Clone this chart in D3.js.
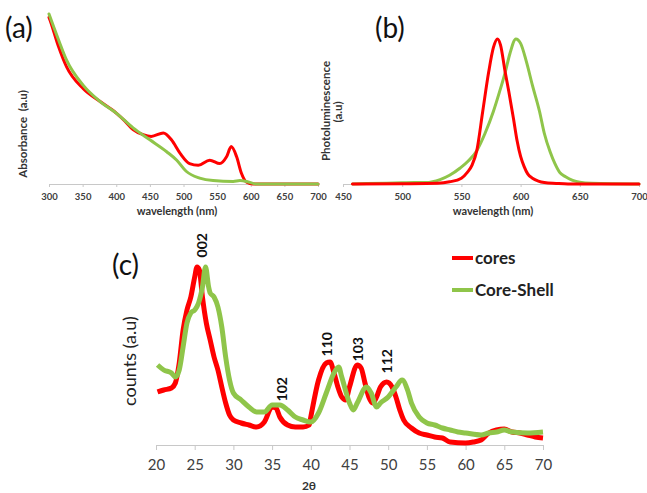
<!DOCTYPE html>
<html>
<head>
  <meta charset="utf-8">
  <title>Absorbance, PL and XRD</title>
  <script src="https://d3js.org/d3.v7.min.js"></script>
  <style>
    body { margin: 0; padding: 0; background: #fff; }
    svg { display: block; font-family: Lato, "Open Sans", sans-serif; }
  </style>
</head>
<body>
  <svg id="fig" width="647" height="493"></svg>
  <script>
    // (a) absorbance, normalised
    var absNm = [300, 301, 314, 326, 351, 376, 400, 413, 425, 440, 452, 470, 482, 495, 509, 522, 539, 554, 564, 571, 579, 586, 594, 603, 650, 700];
    var absCores = [0.98, 0.97, 0.81, 0.69, 0.56, 0.485, 0.417, 0.37, 0.32, 0.29, 0.28, 0.30, 0.26, 0.18, 0.12, 0.11, 0.14, 0.12, 0.16, 0.22, 0.16, 0.065, 0.01, 0, 0, 0];
    var absShellNm = [300, 314, 326, 351, 376, 400, 425, 450, 475, 490, 504, 524, 544, 574, 584, 594, 608, 650, 700];
    var absShell = [1.0, 0.85, 0.73, 0.58, 0.485, 0.417, 0.33, 0.26, 0.19, 0.14, 0.075, 0.035, 0.02, 0.015, 0.02, 0.015, 0, 0, 0];

    // (b) photoluminescence, normalised
    var plCoresNm = [458, 500, 530, 540, 550, 555, 559, 563, 568, 573, 577, 580.5, 583, 587, 590, 594, 597, 600, 603, 606, 610, 615, 620, 630, 640, 700];
    var plCores = [0, 0.002, 0.005, 0.015, 0.04, 0.08, 0.13, 0.23, 0.5, 0.77, 0.94, 1.0, 0.96, 0.77, 0.64, 0.45, 0.3, 0.19, 0.12, 0.07, 0.04, 0.02, 0.01, 0.004, 0, 0];
    var plShellNm = [458, 470, 500, 510, 520, 532, 540, 549, 556, 563, 570, 577, 582, 587, 591, 596, 600, 605, 610, 616, 620, 625, 629, 633, 638, 644, 650, 660, 700];
    var plShell = [0, 0.003, 0.008, 0.01, 0.01, 0.03, 0.06, 0.11, 0.16, 0.23, 0.35, 0.5, 0.63, 0.77, 0.9, 1.0, 0.97, 0.84, 0.68, 0.5, 0.35, 0.22, 0.14, 0.08, 0.05, 0.025, 0.012, 0.005, 0];

    // (c) XRD counts, arbitrary units
    var xrdCoresT = [20.2, 21, 22, 22.5, 23, 23.5, 24, 24.5, 25, 25.3, 25.6, 26, 26.5, 27, 27.5, 28, 28.5, 29, 29.5, 30, 31, 32, 33, 34, 35, 35.5, 36, 37, 38, 39, 39.8, 40, 41, 42, 42.5, 43, 43.5, 44, 44.5, 45, 46, 46.5, 47, 47.5, 48, 48.5, 49, 49.8, 50.5, 51, 51.5, 52, 53, 54, 55, 56, 57, 58, 60, 61, 62, 63, 64, 65, 66, 67, 68, 69, 70];
    var xrdCores = [53, 55, 57, 62, 82, 115, 135, 148, 168, 178, 175, 148, 122, 105, 88, 75, 58, 42, 30, 25, 22, 20, 18, 23, 38, 37, 28, 20, 18, 18, 20, 28, 65, 82, 83, 72, 58, 48, 45, 58, 80, 77, 62, 48, 42, 48, 58, 63, 58, 48, 35, 25, 17, 12, 10, 8, 7, 3, 2, 3, 5, 12, 15, 16, 13, 12, 10, 8, 7];
    var xrdShellT = [20.2, 21, 22, 22.5, 23, 23.5, 24, 24.5, 25, 25.5, 26, 26.4, 26.8, 27, 27.5, 28, 28.5, 29, 29.5, 30, 31, 32, 33, 34, 35, 36, 37, 38, 39, 40, 41, 42, 43, 43.6, 44, 45, 45.5, 46, 47.2, 47.8, 48.5, 49, 50, 51, 51.8, 52.5, 53, 54, 55, 56, 57, 58, 59, 60, 62, 63, 64, 65, 66, 68, 70];
    var xrdShell = [80, 75, 72, 68, 75, 98, 122, 132, 135, 142, 158, 178, 158, 152, 148, 138, 118, 88, 65, 52, 45, 38, 33, 33, 40, 40, 35, 28, 25, 23, 32, 52, 72, 78, 68, 42, 35, 42, 58, 52, 38, 42, 48, 58, 65, 55, 42, 28, 22, 20, 17, 15, 13, 12, 10, 12, 13, 15, 13, 12, 13];

    var peakLabels = ["002", "102", "110", "103", "112"];
    var peakPos = [25.9, 36.3, 42.05, 46.06, 49.8];
    var peakTop = [233, 377, 332, 337, 349];

    var seriesNames = ["cores", "Core-Shell"];
    var red = "#ff0000", green = "#8fc54a";

    var svg = d3.select("#fig");

    function zip(xs, ys) { return xs.map(function (x, i) { return [x, ys[i]]; }); }

    // small spectra panels
    function spectrum(opt) {
      var x = d3.scaleLinear().domain(opt.xDomain).range(opt.xRange);
      var y = d3.scaleLinear().domain([0, 1]).range([184, opt.yTop]);
      var g = svg.append("g");

      var ax = g.append("g")
        .attr("transform", "translate(0,184)")
        .call(d3.axisBottom(x).tickValues(d3.range(opt.xDomain[0], opt.xDomain[1] + 1, 50))
          .tickSize(3).tickPadding(6).tickFormat(d3.format("d")));
      ax.select(".domain").attr("stroke", "#c8c8c8");
      ax.selectAll(".tick line").attr("stroke", "#c8c8c8");
      ax.selectAll(".tick text").attr("fill", "#404040").attr("font-size", 9.5)
        .attr("font-weight", "bold").attr("font-family", "Lato, sans-serif");

      g.append("text").attr("x", opt.titleX).attr("y", 215)
        .attr("text-anchor", "middle").attr("font-size", 11).attr("font-weight", "bold")
        .attr("fill", "#333").text("wavelength (nm)");

      var line = d3.line().x(function (d) { return x(d[0]); }).y(function (d) { return y(d[1]); })
        .curve(d3.curveMonotoneX);
      opt.series.forEach(function (s) {
        g.append("path").datum(s.data).attr("d", line)
          .attr("fill", "none").attr("stroke", s.color).attr("stroke-width", 3)
          .attr("stroke-linejoin", "round").attr("stroke-linecap", "round");
      });
      return g;
    }

    spectrum({
      xDomain: [300, 700], xRange: [49, 318], yTop: 14, titleX: 177,
      series: [{ data: zip(absNm, absCores), color: red }, { data: zip(absShellNm, absShell), color: green }]
    });
    spectrum({
      xDomain: [450, 700], xRange: [343, 639], yTop: 39, titleX: 493,
      series: [{ data: zip(plShellNm, plShell), color: green }, { data: zip(plCoresNm, plCores), color: red }]
    });

    // y titles of (a) and (b)
    svg.append("text").attr("transform", "translate(27,134) rotate(-90)")
      .attr("text-anchor", "middle").attr("font-size", 11.5).attr("font-weight", "bold")
      .attr("fill", "#333").attr("xml:space", "preserve").text("Absorbance  (a.u)");
    svg.append("text").attr("transform", "translate(330,111) rotate(-90)")
      .attr("text-anchor", "middle").attr("font-size", 11.5).attr("font-weight", "bold")
      .attr("fill", "#333").text("Photoluminescence");
    svg.append("text").attr("transform", "translate(342,112) rotate(-90)")
      .attr("text-anchor", "middle").attr("font-size", 11.5).attr("font-weight", "bold")
      .attr("fill", "#333").text("(a.u)");

    // panel letters
    [["(a)", 5, 38], ["(b)", 375, 38], ["(c)", 112, 275]].forEach(function (p) {
      svg.append("text").attr("x", p[1]).attr("y", p[2]).attr("font-size", 28)
        .attr("fill", "#111").text(p[0]);
    });

    // (c) XRD
    var xc = d3.scaleLinear().domain([20, 70]).range([156, 543]);
    var yc = d3.scaleLinear().domain([0, 180]).range([445, 265]);
    var gc = svg.append("g");
    var axc = gc.append("g").attr("transform", "translate(0,445)")
      .call(d3.axisBottom(xc).tickValues(d3.range(20, 71, 5)).tickSize(5).tickPadding(9));
    axc.select(".domain").attr("stroke", "#c8c8c8");
    axc.selectAll(".tick line").attr("stroke", "#c8c8c8");
    axc.selectAll(".tick text").attr("fill", "#404040").attr("font-size", 15)
      .attr("font-family", "Lato, sans-serif");

    gc.append("text").attr("x", 309).attr("y", 486).attr("dy", "0.35em").attr("text-anchor", "middle")
      .attr("font-size", 12).attr("font-weight", "bold").attr("fill", "#333").text("2θ");
    gc.append("text").attr("transform", "translate(136,361) rotate(-90)")
      .attr("text-anchor", "middle").attr("font-size", 18).attr("fill", "#222").text("counts (a.u)");

    var linec = d3.line().x(function (d) { return xc(d[0]); }).y(function (d) { return yc(d[1]); })
      .curve(d3.curveMonotoneX);
    [[zip(xrdCoresT, xrdCores), red], [zip(xrdShellT, xrdShell), green]].forEach(function (s) {
      gc.append("path").datum(s[0]).attr("d", linec).attr("fill", "none")
        .attr("stroke", s[1]).attr("stroke-width", 5).attr("stroke-linejoin", "round");
    });

    peakLabels.forEach(function (lab, i) {
      gc.append("text")
        .attr("transform", "translate(" + (xc(peakPos[i]) + 5) + "," + peakTop[i] + ") rotate(-90)")
        .attr("text-anchor", "end").attr("font-size", 14).attr("font-weight", "bold")
        .attr("fill", "#111").text(lab);
    });

    // legend
    var legY = [258, 290], legCol = [red, green];
    seriesNames.forEach(function (n, i) {
      gc.append("line").attr("x1", 452).attr("x2", 473).attr("y1", legY[i]).attr("y2", legY[i])
        .attr("stroke", legCol[i]).attr("stroke-width", 4);
      gc.append("text").attr("x", 475).attr("y", legY[i]).attr("dy", "0.35em")
        .attr("font-size", 17).attr("font-weight", "bold").attr("fill", "#222").text(n);
    });
  </script>
</body>
</html>
